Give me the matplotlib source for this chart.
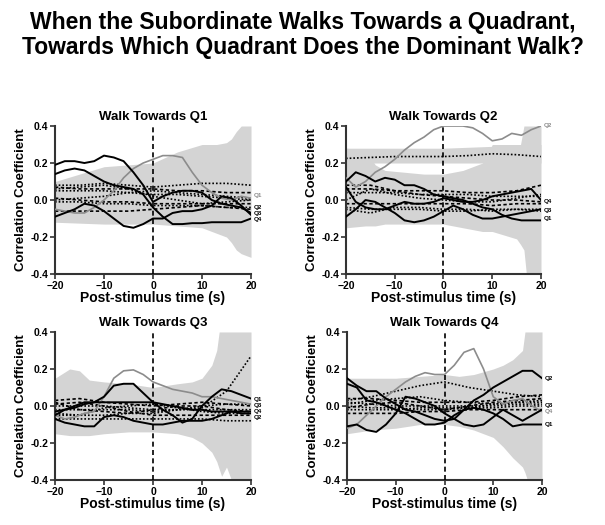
import numpy as np
import matplotlib.pyplot as plt

plt.rcParams["font.family"] = ["Liberation Sans", "DejaVu Sans"]
plt.rcParams["font.weight"] = "bold"

TITLE = "When the Subordinate Walks Towards a Quadrant,\nTowards Which Quadrant Does the Dominant Walk?"
PANEL_TITLES = ["Walk Towards Q1", "Walk Towards Q2", "Walk Towards Q3", "Walk Towards Q4"]

# time grids
t_solid = [-20, -18, -16, -14, -12, -10, -8, -6, -4, -2, 0, 2, 4, 6, 8, 10, 12, 14, 16, 18, 20]
t_dot = [-20, -15, -10, -5, 0, 5, 10, 15, 20]

# ---- panel Q1 ----
q1_band_t = [-20, -15, -10, -5, 0, 5, 10, 13, 15, 16, 17, 18, 20]
q1_band_hi = [0.10, 0.14, 0.18, 0.19, 0.20, 0.26, 0.30, 0.30, 0.31, 0.33, 0.37, 0.40, 0.40]
q1_band_lo = [-0.12, -0.125, -0.13, -0.13, -0.13, -0.14, -0.15, -0.18, -0.20, -0.23, -0.27, -0.29, -0.31]
q1_gray = [-0.05, -0.06, -0.07, -0.07, -0.04, 0.00, 0.05, 0.12, 0.17, 0.20, 0.22, 0.24, 0.24, 0.23, 0.15, 0.08, 0.04, 0.01, 0.00, 0.02, 0.01]
q1_black = [
    [0.19, 0.21, 0.21, 0.20, 0.21, 0.24, 0.23, 0.21, 0.15, 0.08, -0.01, 0.02, 0.04, 0.05, 0.05, 0.04, 0.00, -0.02, -0.03, -0.04, -0.07],
    [0.14, 0.16, 0.17, 0.16, 0.13, 0.10, 0.08, 0.07, 0.06, 0.03, -0.04, -0.09, -0.13, -0.13, -0.125, -0.125, -0.12, -0.12, -0.12, -0.12, -0.10],
    [-0.09, -0.07, -0.05, -0.02, -0.03, -0.06, -0.10, -0.14, -0.15, -0.13, -0.10, -0.10, -0.07, -0.06, -0.06, -0.05, -0.03, 0.02, 0.01, -0.03, -0.08],
]
q1_dotted = [
    [0.08, 0.08, 0.09, 0.08, 0.07, 0.08, 0.09, 0.09, 0.08],
    [0.07, 0.06, 0.06, 0.06, 0.06, 0.05, 0.05, 0.04, 0.04],
    [0.05, 0.05, 0.05, 0.04, 0.03, 0.03, 0.02, 0.01, 0.00],
    [0.00, 0.01, 0.02, 0.04, 0.05, 0.04, 0.03, 0.02, 0.01],
    [0.01, 0.00, -0.01, -0.01, -0.02, -0.02, -0.02, -0.02, -0.02],
    [-0.01, -0.01, -0.02, -0.02, -0.03, -0.03, -0.03, -0.04, -0.04],
    [-0.06, -0.06, -0.06, -0.06, -0.05, -0.04, -0.03, -0.04, -0.05],
    [0.06, 0.07, 0.08, 0.06, 0.02, 0.00, -0.02, -0.01, 0.00],
]
q1_labels = ["Q1", "Q2", "Q3", "Q4"]
q1_label_y = [0.027, -0.042, -0.074, -0.106]
q1_label_gray = [True, False, False, False]

# ---- panel Q2 ----
q2_band_t = [-20, -16, -14, -12, -8, -4, 0, 2, 4, 6, 8, 9, 10, 15, 15.8, 16.5, 17, 20]
q2_band_hi = [0.28, 0.27, 0.19, 0.16, 0.15, 0.14, 0.14, 0.15, 0.16, 0.18, 0.20, 0.24, 0.30, 0.30, 0.30, 0.40, 0.40, 0.40]
q2_band_lo = [-0.15, -0.14, -0.14, -0.13, -0.13, -0.13, -0.13, -0.14, -0.15, -0.16, -0.17, -0.17, -0.17, -0.21, -0.24, -0.27, -0.40, -0.40]
q2_strip_t = [-20, -10, 0, 10, 20]
q2_strip_hi = [0.28, 0.28, 0.28, 0.29, 0.30]
q2_strip_lo = [0.20, 0.20, 0.20, 0.20, 0.20]
q2_gray = [0.12, 0.07, 0.10, 0.15, 0.18, 0.22, 0.27, 0.31, 0.34, 0.38, 0.40, 0.40, 0.40, 0.39, 0.36, 0.32, 0.33, 0.36, 0.35, 0.38, 0.40]
q2_black = [
    [0.10, 0.15, 0.13, 0.10, 0.12, 0.11, 0.08, 0.08, 0.06, 0.03, 0.02, 0.01, 0.00, -0.02, -0.04, -0.05, -0.08, -0.10, -0.11, -0.11, -0.11],
    [-0.09, -0.05, 0.00, -0.01, -0.04, -0.07, -0.11, -0.12, -0.11, -0.09, -0.06, -0.03, -0.05, -0.08, -0.10, -0.10, -0.09, -0.08, -0.07, -0.06, -0.05],
    [0.07, -0.01, -0.04, -0.05, -0.05, -0.03, -0.01, -0.02, -0.02, -0.01, 0.01, 0.00, -0.01, -0.01, 0.00, 0.02, 0.03, 0.04, 0.05, 0.06, 0.00],
]
q2_dotted = [
    [0.225, 0.23, 0.235, 0.235, 0.235, 0.24, 0.25, 0.245, 0.235],
    [0.06, 0.06, 0.05, 0.05, 0.05, 0.04, 0.04, 0.05, 0.08],
    [0.04, 0.04, 0.04, 0.03, 0.03, 0.03, 0.02, 0.02, 0.02],
    [0.00, 0.06, 0.03, 0.01, 0.00, -0.01, -0.01, 0.01, 0.03],
    [-0.02, -0.02, -0.02, -0.02, -0.02, -0.02, -0.03, -0.02, -0.02],
    [-0.05, -0.07, -0.04, -0.04, -0.05, -0.05, -0.06, -0.05, -0.05],
    [0.08, 0.08, 0.05, 0.03, 0.02, 0.01, 0.00, 0.00, -0.01],
    [-0.04, -0.05, -0.05, -0.05, -0.06, -0.06, -0.05, -0.05, -0.06],
]
q2_labels = ["Q2", "Q4", "Q3", "Q1"]
q2_label_y = [0.40, -0.01, -0.058, -0.10]
q2_label_gray = [True, False, False, False]

# ---- panel Q3 ----
q3_band_t = [-20, -17, -15, -13, -10, -5, 0, 5, 8, 10, 12, 13, 13.5, 14, 15, 16, 20]
q3_band_hi = [0.15, 0.20, 0.19, 0.14, 0.13, 0.12, 0.10, 0.12, 0.13, 0.15, 0.22, 0.30, 0.40, 0.40, 0.40, 0.40, 0.40]
q3_band_lo = [-0.15, -0.16, -0.16, -0.16, -0.15, -0.14, -0.14, -0.15, -0.17, -0.20, -0.25, -0.30, -0.34, -0.38, -0.33, -0.40, -0.40]
q3_gray = [-0.05, -0.07, -0.06, -0.04, -0.03, 0.05, 0.15, 0.19, 0.195, 0.17, 0.13, 0.11, 0.09, 0.08, 0.07, 0.05, 0.05, 0.04, 0.03, 0.02, 0.01]
q3_black = [
    [-0.05, -0.02, 0.00, 0.02, 0.02, 0.05, 0.11, 0.12, 0.12, 0.07, 0.02, -0.02, -0.05, -0.09, -0.07, 0.00, 0.05, 0.09, 0.08, 0.06, 0.04],
    [-0.07, -0.09, -0.10, -0.11, -0.11, -0.06, -0.05, -0.06, -0.08, -0.09, -0.10, -0.10, -0.09, -0.08, -0.08, -0.08, -0.07, -0.05, -0.03, -0.03, -0.03],
    [-0.03, -0.02, -0.01, 0.01, 0.02, 0.02, 0.02, 0.02, 0.02, 0.02, 0.02, 0.01, 0.00, -0.01, -0.02, -0.02, -0.03, -0.03, -0.03, -0.04, -0.04],
]
q3_dotted = [
    [0.00, 0.00, 0.00, -0.01, -0.02, -0.02, -0.01, 0.08, 0.27],
    [0.03, 0.04, 0.02, 0.01, 0.00, 0.01, 0.02, 0.01, 0.00],
    [-0.02, -0.02, -0.02, -0.02, -0.03, -0.02, -0.02, -0.02, -0.02],
    [-0.07, -0.07, -0.07, -0.07, -0.07, -0.07, -0.07, -0.08, -0.08],
    [0.02, -0.02, -0.03, -0.04, -0.02, 0.00, 0.00, -0.02, -0.03],
    [-0.04, -0.05, -0.01, 0.00, 0.01, -0.01, -0.03, -0.04, -0.04],
    [0.01, 0.02, 0.00, -0.03, -0.05, -0.05, -0.05, -0.05, -0.05],
    [-0.05, -0.05, -0.05, -0.04, -0.04, -0.02, 0.00, 0.01, 0.01],
]
q3_labels = ["Q1", "Q3", "Q4", "Q2"]
q3_label_y = [0.034, 0.0, -0.032, -0.064]
q3_label_gray = [False, False, False, False]

# ---- panel Q4 ----
q4_band_t = [-20, -15, -10, -5, 0, 3, 6, 10, 12, 14, 16, 16.5, 17, 20]
q4_band_hi = [0.15, 0.15, 0.15, 0.16, 0.17, 0.16, 0.17, 0.20, 0.22, 0.25, 0.30, 0.40, 0.40, 0.40]
q4_band_lo = [-0.15, -0.13, -0.12, -0.10, -0.10, -0.11, -0.13, -0.17, -0.22, -0.28, -0.33, -0.36, -0.40, -0.40]
q4_gray = [-0.12, -0.10, -0.05, 0.00, 0.05, 0.09, 0.13, 0.16, 0.18, 0.17, 0.17, 0.22, 0.29, 0.31, 0.20, 0.05, 0.01, 0.03, 0.04, 0.00, -0.03]
q4_black = [
    [0.15, 0.11, 0.08, 0.08, 0.04, 0.01, -0.02, -0.03, -0.05, -0.07, -0.08, -0.07, -0.02, 0.03, 0.06, 0.10, 0.13, 0.16, 0.19, 0.19, 0.15],
    [0.12, 0.10, 0.03, 0.02, 0.00, -0.02, -0.04, -0.07, -0.10, -0.10, -0.09, -0.05, -0.02, -0.01, -0.02, -0.04, -0.07, -0.11, -0.10, -0.10, -0.10],
    [-0.11, -0.10, -0.13, -0.14, -0.10, -0.04, 0.05, 0.04, 0.02, 0.00, -0.04, -0.07, -0.10, -0.11, -0.10, -0.06, -0.02, -0.05, -0.08, -0.05, -0.02],
]
q4_dotted = [
    [0.03, 0.05, 0.08, 0.11, 0.13, 0.10, 0.08, 0.06, 0.05],
    [0.04, 0.04, 0.03, 0.02, 0.02, 0.02, 0.03, 0.05, 0.06],
    [0.02, 0.01, 0.00, 0.00, 0.00, 0.00, 0.00, 0.01, 0.01],
    [-0.02, -0.02, -0.02, -0.01, -0.01, -0.01, -0.01, 0.00, 0.00],
    [-0.04, -0.04, -0.04, -0.03, -0.03, -0.02, -0.02, -0.02, -0.02],
    [0.01, 0.03, 0.04, 0.05, 0.03, 0.02, 0.01, 0.02, 0.03],
    [-0.01, 0.01, 0.02, 0.00, -0.02, 0.00, 0.02, 0.03, 0.04],
    [0.00, -0.01, -0.01, -0.02, -0.02, -0.01, 0.01, 0.02, 0.02],
]
q4_labels = ["Q2", "Q3", "Q4", "Q1"]
q4_label_y = [0.15, 0.0, -0.032, -0.10]
q4_label_gray = [False, False, True, False]

BAND_COLOR = "#d4d4d4"
GRAY_LINE = "#8c8c8c"
DOT_STYLES = [(0, (1, 1.2)), (0, (2, 1.5)), (0, (1, 1.2)), (0, (1, 1.2)),
              (0, (2, 1.5)), (0, (1, 1.2)), (0, (2, 1.5)), (0, (1, 1.2))]

panels = [
    (q1_band_t, q1_band_lo, q1_band_hi, None, q1_gray, q1_black, q1_dotted, q1_labels, q1_label_y, q1_label_gray),
    (q2_band_t, q2_band_lo, q2_band_hi, (q2_strip_t, q2_strip_lo, q2_strip_hi), q2_gray, q2_black, q2_dotted, q2_labels, q2_label_y, q2_label_gray),
    (q3_band_t, q3_band_lo, q3_band_hi, None, q3_gray, q3_black, q3_dotted, q3_labels, q3_label_y, q3_label_gray),
    (q4_band_t, q4_band_lo, q4_band_hi, None, q4_gray, q4_black, q4_dotted, q4_labels, q4_label_y, q4_label_gray),
]

# axes boxes in figure fractions (left, bottom, width, height)
boxes = [
    (0.0909, 0.478, 0.324, 0.282),
    (0.5719, 0.478, 0.3223, 0.282),
    (0.0909, 0.0857, 0.324, 0.282),
    (0.5736, 0.0857, 0.3223, 0.282),
]

fig = plt.figure(figsize=(6.05, 5.25), dpi=100)
fig.text(0.5, 0.933, TITLE, ha="center", va="center", fontsize=16.5,
         fontweight="bold", linespacing=1.12)

for i, (box, p) in enumerate(zip(boxes, panels)):
    band_t, band_lo, band_hi, strip, gray, blacks, dots, labels, label_y, label_gray = p
    ax = fig.add_axes(box)
    ax.fill_between(band_t, band_lo, band_hi, color=BAND_COLOR, lw=0, zorder=1)
    if strip is not None:
        ax.fill_between(strip[0], strip[1], strip[2], color=BAND_COLOR, lw=0, zorder=1)

    for k, d in enumerate(dots):
        ax.plot(t_dot, d, color="black", lw=1.2, linestyle=DOT_STYLES[k], zorder=2)
    ax.plot(t_solid, gray, color=GRAY_LINE, lw=1.2, zorder=3)
    for b in blacks:
        ax.plot(t_solid, b, color="black", lw=1.4, zorder=4)

    ax.axvline(0, color="black", lw=1.2, linestyle=(0, (3, 2)), zorder=5)

    for lab, ly, lg in zip(labels, label_y, label_gray):
        ax.text(20.6, ly, lab, fontsize=4.5, va="center", ha="left",
                color=GRAY_LINE if lg else "black", clip_on=False)

    ax.set_xlim(-20, 20)
    ax.set_ylim(-0.4, 0.4)
    ax.set_xticks([-20, -10, 0, 10, 20])
    ax.set_yticks([-0.4, -0.2, 0.0, 0.2, 0.4])
    ax.set_yticklabels(["-0.4", "-0.2", "0.0", "0.2", "0.4"])
    ax.tick_params(labelsize=7.5, width=1.2, length=3.5, pad=1.5, color="#333333")
    for lab in ax.get_xticklabels() + ax.get_yticklabels():
        lab.set_fontweight("bold")
    for side in ["top", "right"]:
        ax.spines[side].set_visible(False)
    for side in ["left", "bottom"]:
        ax.spines[side].set_linewidth(1.5)
        ax.spines[side].set_color("#333333")
    ax.set_title(PANEL_TITLES[i], fontsize=9.5, fontweight="bold", pad=4)
    ax.set_xlabel("Post-stimulus time (s)", fontsize=10, fontweight="bold", labelpad=0)
    ax.set_ylabel("Correlation Coefficient", fontsize=9.5, fontweight="bold", labelpad=2)

fig.savefig("out.png", dpi=100)
